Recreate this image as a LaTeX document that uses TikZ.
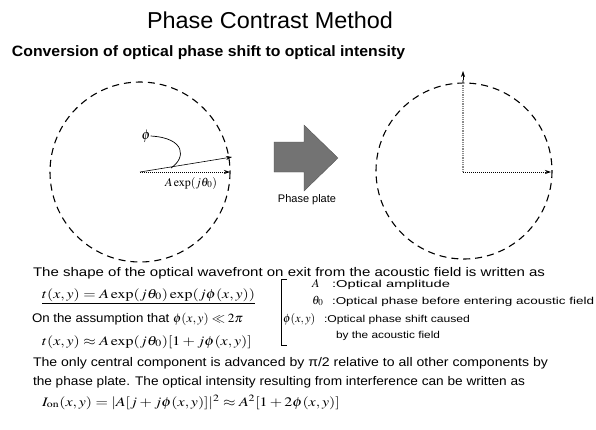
\documentclass[tikz,border=0pt]{standalone}
\usepackage{mathptmx}
\usepackage[no-math]{fontspec}
\setmainfont{Liberation Sans}
\usepackage{graphicx}
\usetikzlibrary{arrows.meta}
\newcommand\fw[2]{\resizebox{#1}{\height}{#2}}
\newsavebox\eqbox
\newcommand\eqfont{\fontsize{13}{13}\selectfont}
\tikzset{
  txt/.style={anchor=base west, inner sep=0pt, outer sep=0pt},
  ring/.style={line width=1.1pt, dash pattern=on 7pt off 5pt},
  vec/.style={line width=0.6pt, -{Stealth[length=6pt,width=4pt]}},
  dvec/.style={line width=0.7pt, dash pattern=on 1pt off 1pt, -{Stealth[length=6pt,width=4pt]}},
}
\begin{document}
\sbox\eqbox{\eqfont$t(x,y) = A\exp(j\theta_0)\exp(j\phi(x,y))$}
\pgfmathsetmacro\eqs{213/\the\wd\eqbox}
\begin{tikzpicture}[x=1pt,y=-1pt]
\useasboundingbox (0,0) rectangle (596,429);
\fill[white] (0,0) rectangle (596,429);

% titles
\node[txt] (title) at (147,28) {\fw{246pt}{\fontsize{23}{23}\selectfont Phase Contrast Method}};
\node[txt] (sub) at (12,56) {\fw{393pt}{\fontsize{15}{15}\selectfont\bfseries Conversion of optical phase shift to optical intensity}};

% left circle
\coordinate (oL) at (140,172);
\draw[ring] (oL) circle (90);
\coordinate (hL) at (230,172);
\coordinate (tL) at (232,157);
\draw[dvec] (oL) -- (hL);
\draw[vec] (oL) -- (tL);
\node[inner sep=0pt] (phiL) at (146,136) {\fontsize{14}{14}\selectfont$\phi$};
\draw[line width=0.7pt] (phiL.east) .. controls (186,138) and (186,158) .. (171,168);
\node[inner sep=0pt] (aexp) at (191,183) {\fontsize{12}{12}\selectfont$A\exp(j\theta_0)$};

% big arrow
\fill[black!55, draw=black!70, line width=0.3pt]
  (274,142) -- (304,142) -- (304,125) -- (338,158) -- (304,191) -- (304,172) -- (274,172) -- cycle;
\node[inner sep=0pt] (pp) at (307,200) {\fontsize{11}{11}\selectfont Phase plate};

% right circle
\coordinate (oR) at (464,171);
\draw[ring] (oR) circle (88);
\coordinate (vR) at (463,71);
\coordinate (hR) at (551,172);
\draw[line width=2.4pt, black!45, dash pattern=on 1pt off 0.8pt] (463,172) -- (463,80);
\draw[vec] (463,80) -- (vR);
\draw[dvec] (463,172) -- (hR);

% text block
\node[txt] (l1) at (33,276) {\fw{512pt}{\fontsize{12.5}{12.5}\selectfont The shape of the optical wavefront on exit from the acoustic field is written as}};
\node[txt] (eq1) at (42,298) {\scalebox{\eqs}[1]{\eqfont$t(x,y) = A\exp(j\theta_0)\exp(j\phi(x,y))$}};
\draw[line width=0.6pt] ([yshift=-2pt]eq1.south west) -- ([yshift=-2pt]eq1.south east);
\node[txt] (l3) at (32,322) {\fw{211pt}{\fontsize{12.5}{12.5}\selectfont On the assumption that $\phi(x,y) \ll 2\pi$}};
\node[txt] (eq4) at (42,345) {\scalebox{\eqs}[1]{\eqfont$t(x,y) \approx A\exp(j\theta_0)[1 + j\phi(x,y)]$}};

% bracket and legend
\draw[line width=0.8pt] (287,279) -- (281,279) -- (281,345) -- (287,345);
\node[txt] (sA) at (312,287) {\fontsize{12}{12}\selectfont$A$};
\node[txt] (dA) at (332,287) {\fw{118pt}{\fontsize{10}{10}\selectfont :Optical amplitude}};
\node[txt] (sT) at (312,304) {\fontsize{12}{12}\selectfont$\theta_0$};
\node[txt] (dT) at (332,304) {\fw{262pt}{\fontsize{10}{10}\selectfont :Optical phase before entering acoustic field}};
\node[txt] (sP) at (283,322) {\fontsize{12}{12}\selectfont$\phi(x,y)$};
\node[txt] (dP) at (324,322) {\fw{146pt}{\fontsize{10}{10}\selectfont :Optical phase shift caused}};
\node[txt] (dP2) at (336,338) {\fw{104pt}{\fontsize{10}{10}\selectfont by the acoustic field}};

\node[txt] (l5) at (33,366) {\fw{515pt}{\fontsize{12.5}{12.5}\selectfont The only central component is advanced by π/2 relative to all other components by}};
\node[txt] (l6) at (33,385) {\fw{492pt}{\fontsize{12.5}{12.5}\selectfont the phase plate. The optical intensity resulting from interference can be written as}};
\node[txt] (eq5) at (42,406) {\scalebox{\eqs}[1]{\eqfont$I_{\mathrm{on}}(x,y) = |A[j + j\phi(x,y)]|^2 \approx A^2[1+2\phi(x,y)]$}};
\end{tikzpicture}
\end{document}
